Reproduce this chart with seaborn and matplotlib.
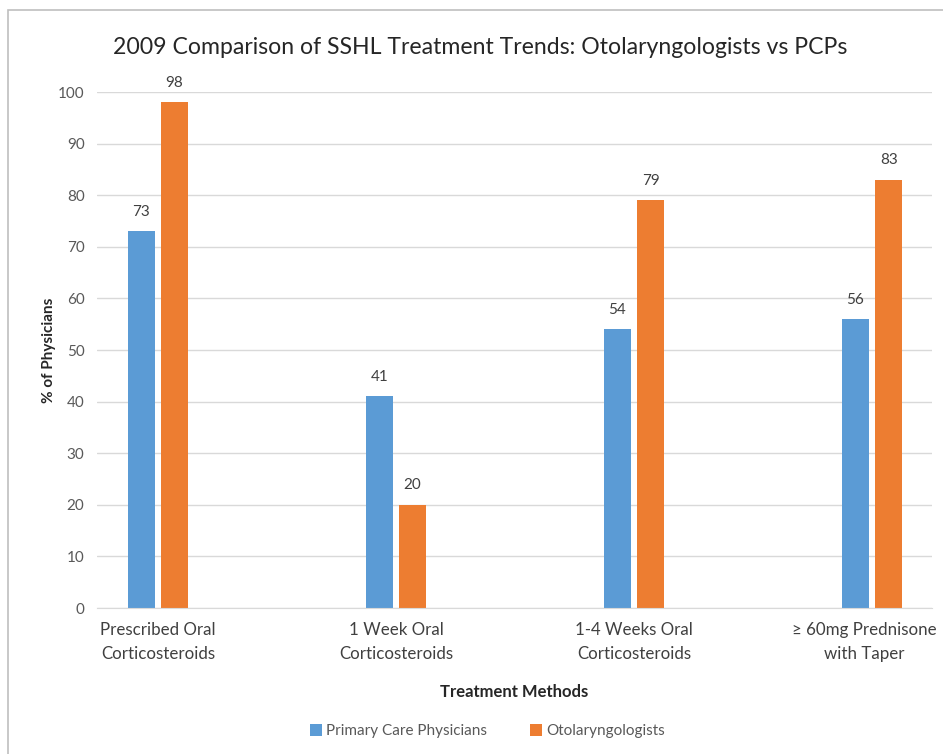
import matplotlib
matplotlib.use("Agg")
import matplotlib.pyplot as plt
import matplotlib.transforms as mtransforms
import pandas as pd
import seaborn as sns
from matplotlib.patches import Rectangle

methods = [
    "Prescribed Oral\nCorticosteroids",
    "1 Week Oral\nCorticosteroids",
    "1-4 Weeks Oral\nCorticosteroids",
    "\u2265 60mg Prednisone\nwith Taper",
]
groups = ["Primary Care Physicians", "Otolaryngologists"]
pcp = [73, 41, 54, 56]
oto = [98, 20, 79, 83]
colors = ["#5B9BD5", "#ED7D31"]

df = pd.DataFrame({
    "method": methods * 2,
    "group": [groups[0]] * len(methods) + [groups[1]] * len(methods),
    "pct": pcp + oto,
})

sns.set_style("white")
plt.rcParams["font.family"] = ["Lato", "DejaVu Sans"]

fig = plt.figure(figsize=(9.43, 7.54), dpi=100)
ax = fig.add_axes([97 / 943, 1 - 608 / 754, (932 - 97) / 943, (608 - 92) / 754])

sns.barplot(data=df, x="method", y="pct", hue="group", palette=colors, saturation=1,
            width=0.28, gap=0.19, ax=ax, legend=True, zorder=3, linewidth=0)

for cont in ax.containers:
    ax.bar_label(cont, padding=9, fontsize=11, color="#404040")

ax.set_ylim(0, 100)
ax.set_xlim(-0.256, 3.252)
ax.set_yticks(range(0, 101, 10))
ax.yaxis.grid(True, color="#D9D9D9", linewidth=1, zorder=0)
ax.tick_params(axis="y", labelsize=11, labelcolor="#595959", length=0, pad=9)
ax.tick_params(axis="x", labelsize=12.2, labelcolor="#404040", length=0, pad=10)
for lbl in ax.get_xticklabels():
    lbl.set_linespacing(1.6)
# last label sits a little left of its group so it stays inside the chart
last = ax.get_xticklabels()[-1]
last.set_transform(last.get_transform() + mtransforms.ScaledTranslation(-8 / 100, 0, fig.dpi_scale_trans))
for side in ["top", "right", "left"]:
    ax.spines[side].set_visible(False)
ax.spines["bottom"].set_color("#D9D9D9")
ax.spines["bottom"].set_zorder(4)

ax.set_xlabel("Treatment Methods", fontsize=12, fontweight="bold", color="#262626", labelpad=16)
ax.set_ylabel("% of Physicians", fontsize=11, fontweight="bold", color="#262626", labelpad=1)

ax.legend(loc="center", bbox_to_anchor=(0.517, 0.03), bbox_transform=fig.transFigure,
          ncol=2, frameon=False, fontsize=11, labelcolor="#595959",
          handlelength=0.75, handleheight=0.75, handletextpad=0.3, columnspacing=2.8)

fig.text(0.509, 1 - 47 / 754, "2009 Comparison of SSHL Treatment Trends: Otolaryngologists vs PCPs",
         ha="center", va="center", fontsize=16.6, color="#262626")

fig.add_artist(Rectangle((8 / 943, -0.5), 2, 0.5 + 1 - 10 / 754, transform=fig.transFigure,
                         fill=False, edgecolor="#BFBFBF", linewidth=1.2))

fig.savefig("out.png", dpi=100)
